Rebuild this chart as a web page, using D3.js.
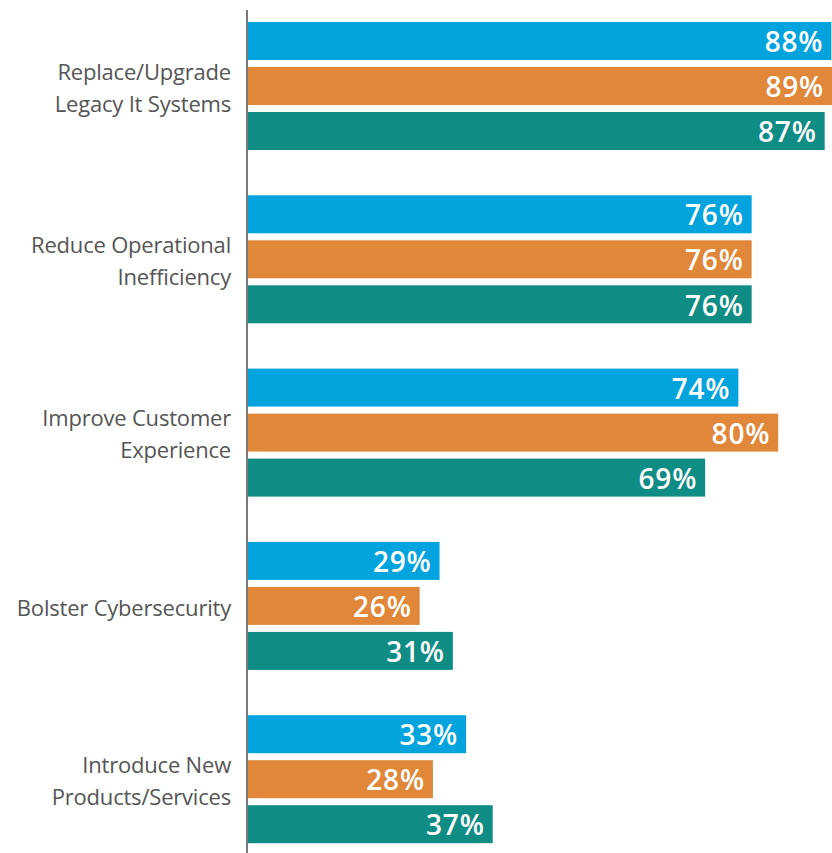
<!doctype html>
<html>
<head>
<meta charset="utf-8">
<script src="https://d3js.org/d3.v7.min.js"></script>
<style>
  body { margin: 0; background: #fff; }
  .cat { font-family: "Open Sans", sans-serif; font-size: 22px; fill: #555; letter-spacing: -0.2px; }
  .val { font-family: "Open Sans", sans-serif; font-size: 28px; font-weight: 600; fill: #fff; letter-spacing: 0.8px; }
</style>
</head>
<body>
<svg width="832" height="853" id="chart"></svg>
<script>
// data
var categories = [
  ["Replace/Upgrade", "Legacy It Systems"],
  ["Reduce Operational", "Inefficiency"],
  ["Improve Customer", "Experience"],
  ["Bolster Cybersecurity"],
  ["Introduce New", "Products/Services"]
];
var seriesNames = ["Blue", "Orange", "Teal"];
var blueValues = [88, 76, 74, 29, 33];
var orangeValues = [89, 76, 80, 26, 28];
var tealValues = [87, 76, 69, 31, 37];
var colors = ["#03a3de", "#e0873a", "#0f8c84"];

var svg = d3.select("#chart"),
    left = 247;

var catKeys = categories.map(function(c) { return c.join(" "); });
var rows = catKeys.map(function(k, i) {
  return { key: k, lines: categories[i], values: [blueValues[i], orangeValues[i], tealValues[i]] };
});

//Scales
var x = d3.scaleLinear().domain([0, 100]).range([left, left + 664]);
var y0 = d3.scaleBand().domain(catKeys).range([22, 843.2]).paddingInner(0.2614).paddingOuter(0);
var y1 = d3.scaleBand().domain(seriesNames).range([0, y0.bandwidth()]).paddingInner(0.156);

//Groups
var g = svg.selectAll(".grp")
  .data(rows)
  .enter().append("g")
  .attr("class", "grp")
  .attr("transform", function(d) { return "translate(0," + y0(d.key) + ")"; });

//Bars
g.selectAll("rect")
  .data(function(d) { return d.values.map(function(v, i) { return { s: seriesNames[i], v: v, i: i }; }); })
  .enter().append("rect")
  .attr("x", x(0))
  .attr("y", function(d) { return y1(d.s); })
  .attr("width", function(d) { return x(d.v) - x(0); })
  .attr("height", y1.bandwidth())
  .attr("fill", function(d) { return colors[d.i]; });

//Value labels
g.selectAll(".val")
  .data(function(d) { return d.values.map(function(v, i) { return { s: seriesNames[i], v: v }; }); })
  .enter().append("text")
  .attr("class", "val")
  .attr("x", function(d) { return Math.min(x(d.v), 832) - 8; })
  .attr("y", function(d) { return y1(d.s) + y1.bandwidth() / 2; })
  .attr("dy", "0.4em")
  .attr("text-anchor", "end")
  .text(function(d) { return d.v + "%"; });

//Category labels
g.append("text")
  .attr("class", "cat")
  .attr("text-anchor", "end")
  .attr("x", 231)
  .attr("y", function(d) { return y0.bandwidth() / 2 + 2 - (d.lines.length - 1) * 16; })
  .selectAll("tspan")
  .data(function(d) { return d.lines; })
  .enter().append("tspan")
  .attr("x", 231)
  .attr("dy", function(d, i) { return i === 0 ? "0.35em" : "32px"; })
  .text(function(d) { return d; });

//Axis line
svg.append("line")
  .attr("x1", left).attr("x2", left)
  .attr("y1", 10).attr("y2", 853)
  .attr("stroke", "#7a7a7a")
  .attr("stroke-width", 2);
</script>
</body>
</html>
